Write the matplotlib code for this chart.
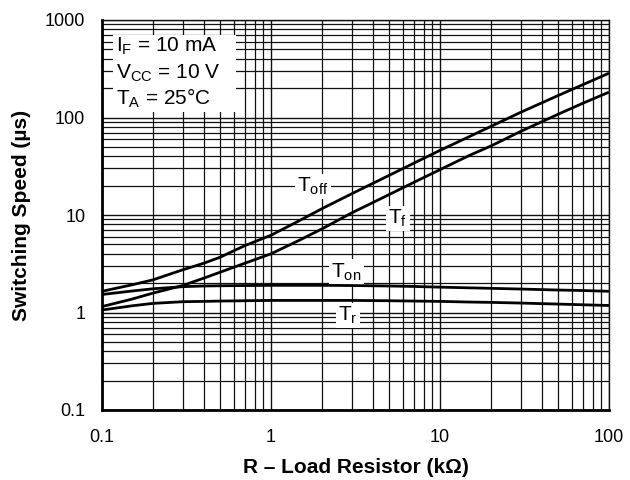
import matplotlib
matplotlib.use("Agg")
import matplotlib.pyplot as plt
from matplotlib.patches import Rectangle
from matplotlib.ticker import LogLocator, FixedLocator, FixedFormatter, NullFormatter

plt.rcParams['font.family'] = ['Liberation Sans', 'DejaVu Sans']
plt.rcParams['mathtext.fontset'] = 'custom'
plt.rcParams['mathtext.rm'] = 'Liberation Sans'
plt.rcParams['mathtext.it'] = 'Liberation Sans:italic'
plt.rcParams['mathtext.bf'] = 'Liberation Sans:bold'

# ---- data ----
r_load = [0.1, 0.15, 0.2, 0.3, 0.4, 0.5, 0.7, 1, 1.5, 2, 3, 5, 7, 10, 15, 20, 30, 50, 70, 100]
t_off = [1.65, 1.92, 2.16, 2.74, 3.2, 3.69, 4.85, 6.2, 8.9, 11.6, 16.5, 25.5, 34, 46, 64, 81, 113, 168, 217, 285]
t_f = [1.15, 1.37, 1.58, 1.89, 2.25, 2.59, 3.2, 4.0, 5.6, 7.2, 10.5, 16.2, 21.6, 29.2, 41, 51, 72, 108, 140, 182]
t_on = [1.53, 1.66, 1.75, 1.84, 1.87, 1.88, 1.89, 1.9, 1.9, 1.9, 1.89, 1.87, 1.85, 1.82, 1.79, 1.77, 1.74, 1.7, 1.68, 1.65]
t_r = [1.06, 1.17, 1.24, 1.29, 1.30, 1.31, 1.32, 1.33, 1.33, 1.33, 1.33, 1.32, 1.31, 1.30, 1.28, 1.27, 1.25, 1.22, 1.20, 1.18]

x_ticks = [0.1, 1, 10, 100]
x_tick_labels = ["0.1", "1", "10", "100"]
y_ticks = [0.1, 1, 10, 100, 1000]
y_tick_labels = ["0.1", "1", "10", "100", "1000"]

conditions = [r"I$_\mathrm{F}$ = 10 mA", r"V$_\mathrm{CC}$ = 10 V", r"T$_\mathrm{A}$ = 25°C"]
curve_labels = [
    (r"T$_\mathrm{off}$", 1.77, 19.5),
    (r"T$_\mathrm{f}$", 5.64, 9.2),
    (r"T$_\mathrm{on}$", 2.8, 2.6),
    (r"T$_\mathrm{r}$", 2.86, 0.93),
]

fig = plt.figure(figsize=(6.3, 4.8), dpi=100)
ax = fig.add_axes([102/630, 1-410/480, (609-102)/630, (410-20)/480])
ax.set_xscale('log')
ax.set_yscale('log')
ax.set_xlim(0.1, 100)
ax.set_ylim(0.1, 1000)

ax.xaxis.set_major_locator(FixedLocator(x_ticks))
ax.xaxis.set_major_formatter(FixedFormatter(x_tick_labels))
ax.yaxis.set_major_locator(FixedLocator(y_ticks))
ax.yaxis.set_major_formatter(FixedFormatter(y_tick_labels))
ax.xaxis.set_minor_locator(LogLocator(base=10, subs=range(2, 10)))
ax.yaxis.set_minor_locator(LogLocator(base=10, subs=range(2, 10)))
ax.xaxis.set_minor_formatter(NullFormatter())
ax.yaxis.set_minor_formatter(NullFormatter())

ax.set_axisbelow(True)
ax.grid(True, which='major', color='#111111', lw=1.0)
ax.grid(True, which='minor', color='#111111', lw=0.9)
ax.tick_params(which='both', length=0)
ax.tick_params(axis='x', pad=14, labelsize=13)
ax.tick_params(axis='y', pad=12, labelsize=13)

for s in ['left', 'bottom']:
    ax.spines[s].set_linewidth(2.0)
for s in ['top', 'right']:
    ax.spines[s].set_linewidth(1.0)
    ax.spines[s].set_color('#111111')

for ys in (t_off, t_f, t_on, t_r):
    ax.plot(r_load, ys, color='black', lw=2.0, zorder=5, solid_capstyle='butt',
            solid_joinstyle='round')

for txt, xv, yv in curve_labels:
    ax.text(xv, yv, txt, fontsize=15, ha='center', va='center', zorder=4,
            bbox=dict(boxstyle='square,pad=0.1', fc='white', ec='none'))

ax.add_patch(Rectangle((11/507, 1-92/390), (236-113)/507, (112-35)/390,
                       transform=ax.transAxes, fc='white', ec='none', zorder=3))
for i, line in enumerate(conditions):
    ax.text(14/507, 1-(32+26.5*i)/390, line, transform=ax.transAxes,
            fontsize=15, ha='left', va='baseline', zorder=4)

ax.set_xlabel("R – Load Resistor (kΩ)", fontsize=15, fontweight='bold', labelpad=8)
ax.set_ylabel("Switching Speed (µs)", fontsize=15, fontweight='bold', labelpad=10)

fig.savefig("out.png", dpi=100)
